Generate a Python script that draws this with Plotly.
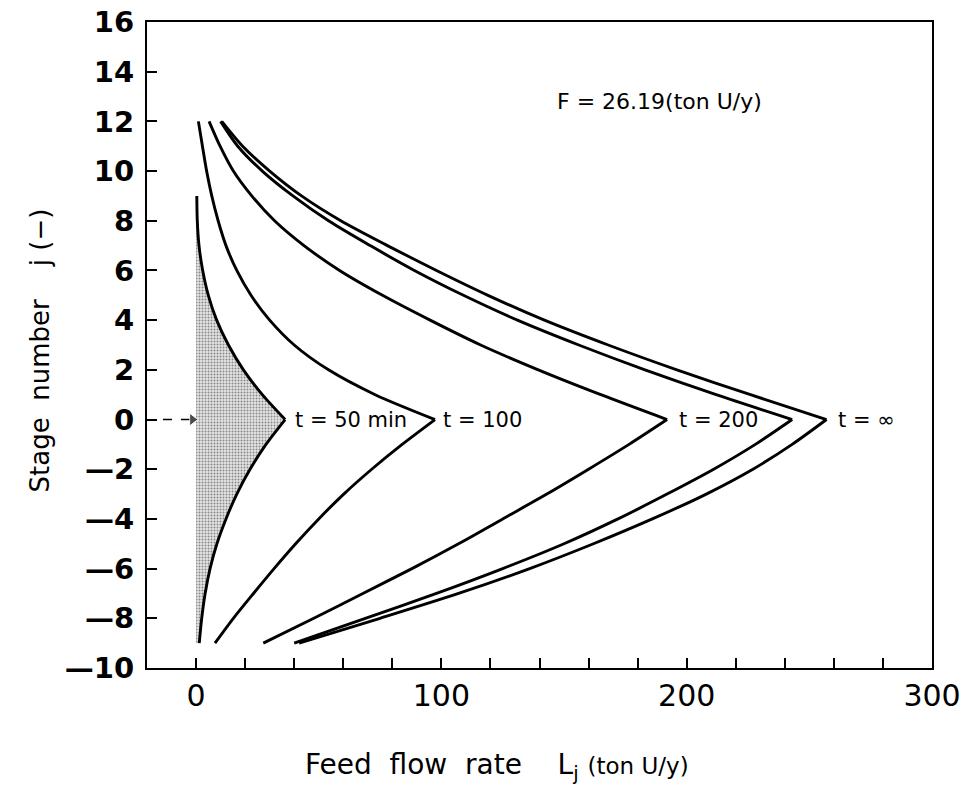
import plotly.graph_objects as go

# Stage numbers
j_full = list(range(-9, 13))          # -9 .. 12
j_t50 = list(range(-9, 10))           # -9 .. 9

# Feed flow rate L_j (ton U/y)
L_t50 = [1.3, 2.3, 3.7, 5.7, 8.5, 12.2, 16.6, 22.0, 28.5, 36.3,
         27.0, 19.3, 13.2, 8.4, 5.0, 2.7, 1.2, 0.5, 0.3]
L_t100 = [7.7, 15.2, 23.4, 31.8, 40.6, 50.0, 60.2, 71.6, 84.0, 97.4,
          73.0, 54.0, 40.0, 30.0, 22.4, 16.6, 12.2, 9.0, 6.4, 4.3, 2.6, 0.95]
L_t200 = [27.4, 48.0, 68.0, 88.0, 107.0, 125.0, 143.0, 160.0, 176.5, 192.0,
          165.0, 139.5, 116.0, 95.4, 76.0, 58.5, 44.0, 32.0, 22.7, 15.2, 9.8, 5.3]
L_t4 = [40.0, 69.0, 98.0, 125.0, 150.0, 172.0, 192.0, 211.0, 228.0, 243.0,
        212.0, 183.0, 156.0, 131.0, 109.0, 89.0, 71.0, 54.0, 39.5, 27.0, 17.0, 10.0]
L_tinf = [42.0, 75.0, 107.0, 136.0, 162.0, 186.0, 208.0, 227.0, 243.0, 257.0,
          226.0, 196.0, 168.0, 142.0, 119.0, 98.0, 78.0, 59.0, 43.0, 30.0, 19.0, 10.5]

curve_labels = ["t = 50 min", "t = 100", "t = 200", "t = ∞"]
label_x = [39.5, 100.0, 196.0, 261.0]

# feed position marker (stage 0)
feed_x = [-13.5, -1.5]
feed_y = [0, 0]

FONT = "DejaVu Sans, sans-serif"

fig = go.Figure()


def split(js, Ls):
    i0 = js.index(0)
    return (js[:i0 + 1], Ls[:i0 + 1]), (js[i0:], Ls[i0:])


# shaded area for t = 50 min
for (jj, LL) in split(j_t50, L_t50):
    fig.add_trace(go.Scatter(
        x=LL, y=jj, mode="lines", fill="tozerox",
        line=dict(width=0, shape="spline", smoothing=0.8),
        fillcolor="rgba(200,200,200,1)",
        fillpattern=dict(shape=".", fgcolor="#2a2a2a", bgcolor="#e4e4e4",
                         size=3, solidity=0.35),
        hoverinfo="skip", showlegend=False))

for js, Ls in [(j_t50, L_t50), (j_full, L_t100), (j_full, L_t200),
               (j_full, L_t4), (j_full, L_tinf)]:
    for (jj, LL) in split(js, Ls):
        fig.add_trace(go.Scatter(
            x=LL, y=jj, mode="lines",
            line=dict(color="black", width=2.9, shape="spline", smoothing=0.8),
            showlegend=False))

# dashed feed arrow
fig.add_trace(go.Scatter(
    x=feed_x, y=feed_y, mode="lines+markers",
    line=dict(color="black", width=1.5, dash="dash"),
    marker=dict(symbol="triangle-right", size=[0, 11], color="black"),
    showlegend=False, hoverinfo="skip"))

annotations = []
for txt, xx in zip(curve_labels, label_x):
    annotations.append(dict(x=xx, y=0, xref="x", yref="y", text=txt,
                            showarrow=False, xanchor="left", yanchor="middle",
                            font=dict(family=FONT, size=21, color="black")))

annotations.append(dict(x=146.5, y=12.8, xref="x", yref="y",
                        text="F = 26.19(ton U/y)", showarrow=False,
                        xanchor="left", yanchor="middle",
                        font=dict(family=FONT, size=22, color="black")))

# axis titles
annotations.append(dict(x=0.446, y=-0.153, xref="paper", yref="paper",
                        text="Feed  flow  rate    L<sub>j</sub> <span style='font-size:23px'>(ton U/y)</span>",
                        showarrow=False, xanchor="center", yanchor="middle",
                        font=dict(family=FONT, size=28, color="black")))
annotations.append(dict(x=-0.136, y=0.492, xref="paper", yref="paper",
                        text="Stage  number    j (−)", textangle=-90,
                        showarrow=False, xanchor="center", yanchor="middle",
                        font=dict(family=FONT, size=26, color="black")))

ytick_vals = list(range(-10, 17, 2))
ytick_text = [("—" + str(-v)) if v < 0 else str(v) for v in ytick_vals]

fig.update_layout(
    width=965, height=791,
    margin=dict(l=147, r=33, t=22, b=123, autoexpand=False),
    paper_bgcolor="white", plot_bgcolor="white",
    showlegend=False,
    annotations=annotations,
    xaxis=dict(range=[-20, 300], tickvals=[0, 100, 200, 300], automargin=False,
               ticks="inside", ticklen=10, tickwidth=1.5, tickcolor="black",
               minor=dict(tickvals=[20, 40, 60, 80, 120, 140, 160, 180, 220, 240, 260, 280],
                          ticks="inside", ticklen=10, tickwidth=1.5, tickcolor="black"),
               showline=True, linecolor="black", linewidth=2, mirror=True,
               showgrid=False, zeroline=False,
               tickfont=dict(family=FONT, size=30, color="black")),
    yaxis=dict(range=[-10, 16], tickvals=ytick_vals, ticktext=ytick_text,
               automargin=False,
               ticks="inside", ticklen=10, tickwidth=1.5, tickcolor="black",
               showline=True, linecolor="black", linewidth=2, mirror=True,
               showgrid=False, zeroline=False, ticklabelstandoff=5,
               tickfont=dict(family=FONT, size=29, color="black", weight="bold")),
)

fig.write_html("out.html")
